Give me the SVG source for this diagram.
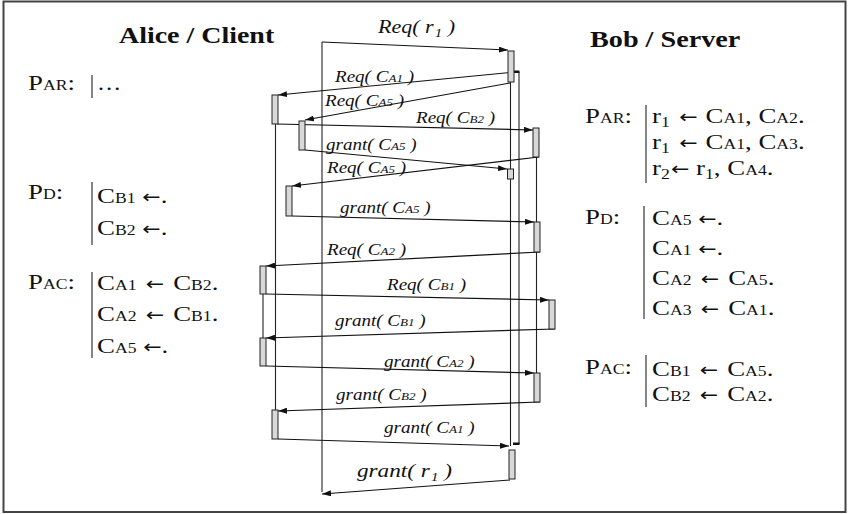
<svg xmlns="http://www.w3.org/2000/svg" width="849" height="514" viewBox="0 0 849 514">
  <defs>
    <marker id="ah" viewBox="0 0 9 6" refX="9" refY="3" markerWidth="9" markerHeight="6" markerUnits="userSpaceOnUse" orient="auto">
      <path d="M0,0 L9,3 L0,6 z" fill="#111"/>
    </marker>
    <style>
      .frame { fill: #fff; stroke: #444; stroke-width: 2; }
      .life { stroke: #222; stroke-width: 1.1; fill: none; }
      .msg { stroke: #111; stroke-width: 1.2; fill: none; marker-end: url(#ah); }
      .bar { fill: #d8d8d8; stroke: #222; stroke-width: 1; }
      .tick { fill: #111; }
      .lbl { font-family: "Liberation Serif", "Times New Roman", serif; font-style: italic; font-size: 16px; fill: #111; }
      .lbl .s { font-size: 11px; }
      .big { font-size: 18.5px; }
      .big .s { font-size: 12.5px; }
      .title { font-family: "Liberation Serif", "Times New Roman", serif; font-weight: bold; font-size: 23.5px; fill: #111; }
      .pt { font-family: "Liberation Serif", "Times New Roman", serif; font-size: 22px; fill: #111; }
      .pt .s { font-size: 14.5px; }
      .pt .d { font-size: 14.5px; }
      .pt .ar { font-family: "DejaVu Sans", sans-serif; font-size: 18px; }
      .sep { stroke: #222; stroke-width: 1.1; }
    </style>
  </defs>

  <rect class="frame" x="3.5" y="1.5" width="842" height="510.5"/>

  <!-- participant titles -->
  <g id="alice-title">
    <text class="title" transform="translate(119 43) scale(1.19 1)">Alice / Client</text>
  </g>
  <g id="bob-title">
    <text class="title" transform="translate(590 47) scale(1.2 1)">Bob / Server</text>
  </g>

  <!-- Alice's program -->
  <g id="alice-rules">
    <text class="pt" transform="translate(28 90) scale(1.22 1)">P<tspan class="s">AR</tspan>:</text>
    <line class="sep" x1="92" y1="75" x2="92" y2="98"/>
    <text class="pt" transform="translate(97 90) scale(1.1 1)">…</text>

    <text class="pt" transform="translate(28 199) scale(1.22 1)">P<tspan class="s">D</tspan>:</text>
    <line class="sep" x1="92" y1="182" x2="92" y2="245"/>
    <text class="pt" transform="translate(97 203) scale(1.22 1)">C<tspan class="s">B1</tspan> <tspan class="ar">←</tspan>.</text>
    <text class="pt" transform="translate(97 235) scale(1.22 1)">C<tspan class="s">B2</tspan> <tspan class="ar">←</tspan>.</text>

    <text class="pt" transform="translate(28 289) scale(1.22 1)">P<tspan class="s">AC</tspan>:</text>
    <line class="sep" x1="92" y1="272" x2="92" y2="358"/>
    <text class="pt" transform="translate(97 290) scale(1.22 1)">C<tspan class="s">A1</tspan> <tspan class="ar" dx="2">←</tspan><tspan dx="2"> C</tspan><tspan class="s">B2</tspan>.</text>
    <text class="pt" transform="translate(97 321) scale(1.22 1)">C<tspan class="s">A2</tspan> <tspan class="ar" dx="2">←</tspan><tspan dx="2"> C</tspan><tspan class="s">B1</tspan>.</text>
    <text class="pt" transform="translate(97 353) scale(1.22 1)">C<tspan class="s">A5</tspan> <tspan class="ar">←</tspan>.</text>
  </g>

  <!-- Bob's program -->
  <g id="bob-rules">
    <text class="pt" transform="translate(585 123) scale(1.22 1)">P<tspan class="s">AR</tspan>:</text>
    <line class="sep" x1="646" y1="105" x2="646" y2="183"/>
    <text class="pt" transform="translate(652 123) scale(1.22 1)">r<tspan class="d" dy="4">1</tspan><tspan class="ar" dx="2" dy="-4"> ←</tspan><tspan dx="1"> C</tspan><tspan class="s">A1</tspan>, C<tspan class="s">A2</tspan>.</text>
    <text class="pt" transform="translate(652 149) scale(1.22 1)">r<tspan class="d" dy="4">1</tspan><tspan class="ar" dx="2" dy="-4"> ←</tspan><tspan dx="1"> C</tspan><tspan class="s">A1</tspan>, C<tspan class="s">A3</tspan>.</text>
    <text class="pt" transform="translate(652 175) scale(1.22 1)">r<tspan class="d" dy="4">2</tspan><tspan class="ar" dx="1" dy="-4">←</tspan><tspan> r</tspan><tspan class="d" dy="4">1</tspan><tspan dy="-4">, C</tspan><tspan class="s">A4</tspan>.</text>

    <text class="pt" transform="translate(585 224) scale(1.22 1)">P<tspan class="s">D</tspan>:</text>
    <line class="sep" x1="644" y1="206" x2="644" y2="319"/>
    <text class="pt" transform="translate(652 225) scale(1.22 1)">C<tspan class="s">A5</tspan> <tspan class="ar">←</tspan>.</text>
    <text class="pt" transform="translate(652 255) scale(1.22 1)">C<tspan class="s">A1</tspan> <tspan class="ar">←</tspan>.</text>
    <text class="pt" transform="translate(652 285) scale(1.22 1)">C<tspan class="s">A2</tspan> <tspan class="ar" dx="2">←</tspan><tspan dx="2"> C</tspan><tspan class="s">A5</tspan>.</text>
    <text class="pt" transform="translate(652 315) scale(1.22 1)">C<tspan class="s">A3</tspan> <tspan class="ar" dx="2">←</tspan><tspan dx="2"> C</tspan><tspan class="s">A1</tspan>.</text>

    <text class="pt" transform="translate(585 374) scale(1.22 1)">P<tspan class="s">AC</tspan>:</text>
    <line class="sep" x1="646" y1="355" x2="646" y2="407"/>
    <text class="pt" transform="translate(652 376) scale(1.22 1)">C<tspan class="s">B1</tspan> <tspan class="ar" dx="2">←</tspan><tspan dx="2"> C</tspan><tspan class="s">A5</tspan>.</text>
    <text class="pt" transform="translate(652 401) scale(1.22 1)">C<tspan class="s">B2</tspan> <tspan class="ar" dx="2">←</tspan><tspan dx="2"> C</tspan><tspan class="s">A2</tspan>.</text>
  </g>

  <!-- lifelines and messages -->
  <g id="connectors">
    <line class="life" x1="322" y1="42" x2="322" y2="492"/>
    <line class="life" x1="510.5" y1="82" x2="510.5" y2="446"/>
    <line class="life" x1="519" y1="72" x2="519" y2="444"/>
    <line class="life" x1="536.5" y1="157" x2="536.5" y2="373"/>
    <line class="life" x1="275.5" y1="124" x2="275.5" y2="410"/>
    <line class="life" x1="263" y1="294" x2="263" y2="338"/>
    <rect class="tick" x="513" y="70.5" width="6.5" height="2.5"/>
    <rect class="tick" x="513" y="442.5" width="6.5" height="2.5"/>

    <path class="msg" d="M322,42 L508,50"/>
    <path class="msg" d="M515,72 L278,95"/>
    <path class="msg" d="M510,83 L305,120"/>
    <path class="msg" d="M277,124 L533,130"/>
    <path class="msg" d="M305,150 L507,169"/>
    <path class="msg" d="M539,157 L292,186"/>
    <path class="msg" d="M292,216 L534,222"/>
    <path class="msg" d="M540,252 L266,266"/>
    <path class="msg" d="M266,294 L549,300"/>
    <path class="msg" d="M555,329 L266,338"/>
    <path class="msg" d="M266,366 L534,373"/>
    <path class="msg" d="M540,402 L278,411"/>
    <path class="msg" d="M278,439 L509,446"/>
    <path class="msg" d="M510,480 L322,494"/>

    <text class="lbl big" transform="translate(378 33) scale(1.19 1)">Req( r<tspan class="s" dx="1" dy="4">1</tspan><tspan dy="-4"> )</tspan></text>
    <text class="lbl" transform="translate(335 81.5) scale(1.19 1)">Req( C<tspan class="s">A1</tspan> )</text>
    <text class="lbl" transform="translate(325 106) scale(1.19 1)">Req( C<tspan class="s">A5</tspan> )</text>
    <text class="lbl" transform="translate(416 122.5) scale(1.19 1)">Req( C<tspan class="s">B2</tspan> )</text>
    <text class="lbl" transform="translate(326 150) scale(1.19 1)">grant( C<tspan class="s">A5</tspan> )</text>
    <text class="lbl" transform="translate(327 173) scale(1.19 1)">Req( C<tspan class="s">A5</tspan> )</text>
    <text class="lbl" transform="translate(340 213) scale(1.19 1)">grant( C<tspan class="s">A5</tspan> )</text>
    <text class="lbl" transform="translate(327 255) scale(1.19 1)">Req( C<tspan class="s">A2</tspan> )</text>
    <text class="lbl" transform="translate(387 290) scale(1.19 1)">Req( C<tspan class="s">B1</tspan> )</text>
    <text class="lbl" transform="translate(335 325.5) scale(1.19 1)">grant( C<tspan class="s">B1</tspan> )</text>
    <text class="lbl" transform="translate(384 366.5) scale(1.19 1)">grant( C<tspan class="s">A2</tspan> )</text>
    <text class="lbl" transform="translate(336 400) scale(1.19 1)">grant( C<tspan class="s">B2</tspan> )</text>
    <text class="lbl" transform="translate(384 433) scale(1.19 1)">grant( C<tspan class="s">A1</tspan> )</text>
    <text class="lbl big" style="font-size:19.5px" transform="translate(357 476.5) scale(1.19 1)">grant( r<tspan class="s" dx="1" dy="4">1</tspan><tspan dy="-4"> )</tspan></text>
  </g>

  <!-- activation bars -->
  <g id="bar-a1"><rect class="bar" x="508" y="51" width="6" height="31"/></g>
  <g id="bar-b1"><rect class="bar" x="272" y="95" width="6" height="29"/></g>
  <g id="bar-b2"><rect class="bar" x="299" y="121" width="6" height="29"/></g>
  <g id="bar-c1"><rect class="bar" x="533" y="128" width="6" height="29"/></g>
  <g id="bar-a2"><rect class="bar" x="507.5" y="169" width="6" height="10"/></g>
  <g id="bar-b3"><rect class="bar" x="286" y="186" width="6" height="30"/></g>
  <g id="bar-c2"><rect class="bar" x="534" y="222" width="6" height="30"/></g>
  <g id="bar-b4"><rect class="bar" x="260" y="266" width="6" height="28"/></g>
  <g id="bar-c3"><rect class="bar" x="549" y="300" width="6" height="29"/></g>
  <g id="bar-b5"><rect class="bar" x="260" y="338" width="6" height="28"/></g>
  <g id="bar-c4"><rect class="bar" x="534" y="373" width="6" height="29"/></g>
  <g id="bar-b6"><rect class="bar" x="272" y="410" width="6" height="29"/></g>
  <g id="bar-a3"><rect class="bar" x="509" y="450" width="6" height="29"/></g>
</svg>
